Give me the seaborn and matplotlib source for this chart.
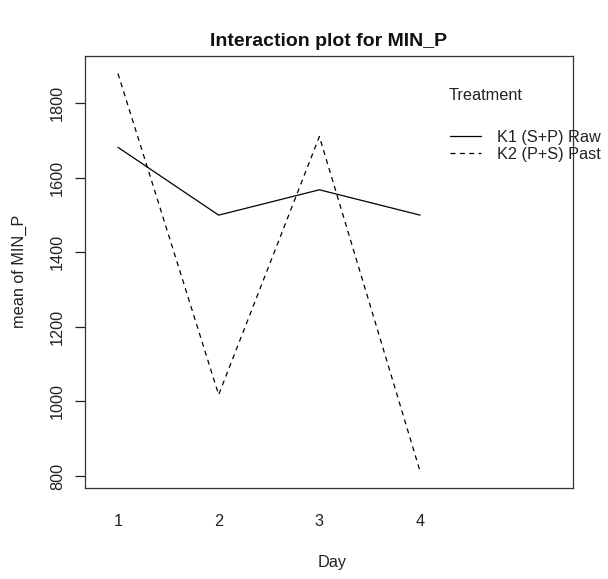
import matplotlib
matplotlib.use("Agg")
import matplotlib.pyplot as plt
import seaborn as sns
import pandas as pd

days = [1, 2, 3, 4]
k1_raw = [1682, 1500, 1568, 1500]
k2_past = [1880, 1018, 1711, 812]
treatments = ["K1 (S+P) Raw", "K2 (P+S) Past"]

df = pd.DataFrame({
    "Day": days * 2,
    "value": k1_raw + k2_past,
    "Treatment": [treatments[0]] * 4 + [treatments[1]] * 4,
})

sns.set_theme(style="white")
plt.rcParams['font.family'] = ['Liberation Sans', 'DejaVu Sans']

W, H = 608, 579
fig = plt.figure(figsize=(W / 100, H / 100), dpi=100)
L, R, T, B = 84.7, 572.7, 56.0, 487.7
ax = fig.add_axes([L / W, 1 - B / H, (R - L) / W, (B - T) / H])

sns.lineplot(data=df, x="Day", y="value", style="Treatment",
             style_order=treatments,
             dashes={treatments[0]: "", treatments[1]: (4, 3.5)},
             color="black", linewidth=0.9, ax=ax, legend=True)

ax.set_xlim(0.67, 5.515)
ax.set_ylim(768.6, 1927)
ax.set_xticks(days)
ax.set_xticklabels([str(d) for d in days])
ax.set_yticks([800, 1000, 1200, 1400, 1600, 1800])
for sp in ax.spines.values():
    sp.set_visible(True)
    sp.set_color("#333333")
    sp.set_linewidth(0.9)

fs = 11.7
ax.tick_params(axis="x", length=0, pad=19, labelsize=fs, colors="#222222")
ax.tick_params(axis="y", length=7.2, width=0.9, pad=7, labelsize=fs,
               colors="#222222", left=True, direction="out")
for lab in ax.get_yticklabels():
    lab.set_rotation(90)
    lab.set_va("center")

ax.set_xlabel("")
ax.set_ylabel("")
fig.text(331.7 / W, 1 - 563 / H, "Day", ha="center", va="center",
         fontsize=fs, color="#222222")
fig.text(19 / W, 1 - ((T + B) / 2) / H, "mean of MIN_P", ha="center",
         va="center", rotation=90, fontsize=fs, color="#222222")
fig.text((L + R) / 2 / W, 1 - 42 / H, "Interaction plot for MIN_P",
         ha="center", va="center", fontsize=fs * 1.2, fontweight="bold",
         color="#111111")

handles, labels = ax.get_legend_handles_labels()
ax.legend(handles, labels, loc="upper left",
          bbox_to_anchor=(450 / W, 1 - 130 / H), bbox_transform=fig.transFigure,
          frameon=False, fontsize=fs, handlelength=1.9, handletextpad=1.0,
          borderpad=0, borderaxespad=0, labelspacing=0.1,
          labelcolor="#222222")
fig.text(449 / W, 1 - 96 / H, "Treatment", ha="left", va="center",
         fontsize=fs, color="#222222")

fig.savefig("out.png", dpi=100)
